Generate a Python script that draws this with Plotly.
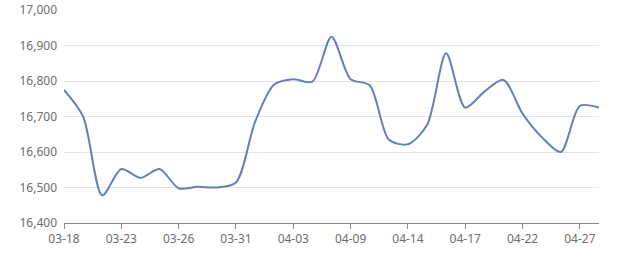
import plotly.graph_objects as go

dates = ["03-18", "03-19", "03-20", "03-23", "03-24", "03-25", "03-26", "03-27",
         "03-30", "03-31", "04-01", "04-02", "04-03", "04-07", "04-08", "04-09",
         "04-10", "04-13", "04-14", "04-15", "04-16", "04-17", "04-20", "04-21",
         "04-22", "04-23", "04-24", "04-27", "04-28"]
prices = [16775, 16700, 16478, 16552, 16527, 16552, 16498, 16502,
          16500, 16514, 16685, 16790, 16805, 16798, 16925, 16805,
          16788, 16635, 16622, 16676, 16878, 16725, 16770, 16803,
          16708, 16642, 16600, 16730, 16725]
tick_labels = ["03-18", "03-23", "03-26", "03-31", "04-03", "04-09",
               "04-14", "04-17", "04-22", "04-27"]

fig = go.Figure()
fig.add_trace(go.Scatter(
    x=list(range(len(dates))), y=prices, mode="lines",
    line=dict(color="#6680b8", width=2, shape="spline", smoothing=0.8),
    hoverinfo="skip",
))

tickvals = [dates.index(t) for t in tick_labels]

fig.update_layout(
    width=640, height=270,
    margin=dict(l=64, r=41, t=10, b=47),
    paper_bgcolor="white", plot_bgcolor="white",
    showlegend=False,
    font=dict(family="Noto Sans, DejaVu Sans, sans-serif", size=12, color="#6e6e6e"),
    xaxis=dict(
        range=[0, len(dates) - 1],
        tickvals=tickvals, ticktext=tick_labels,
        showgrid=False, zeroline=False, automargin=False,
        showline=True, linecolor="#8a8a8a", linewidth=1,
        ticks="outside", ticklen=5, tickcolor="#8a8a8a",
        tickfont=dict(size=12, color="#6e6e6e"),
    ),
    yaxis=dict(
        range=[16400, 17000], dtick=100, tickformat=",",
        showgrid=True, gridcolor="#e3e3e3", gridwidth=1,
        zeroline=False, showline=False, ticks="", automargin=False,
        tickfont=dict(size=12, color="#6e6e6e"),
        ticklabelstandoff=6,
    ),
)

fig.write_html("out.html")
